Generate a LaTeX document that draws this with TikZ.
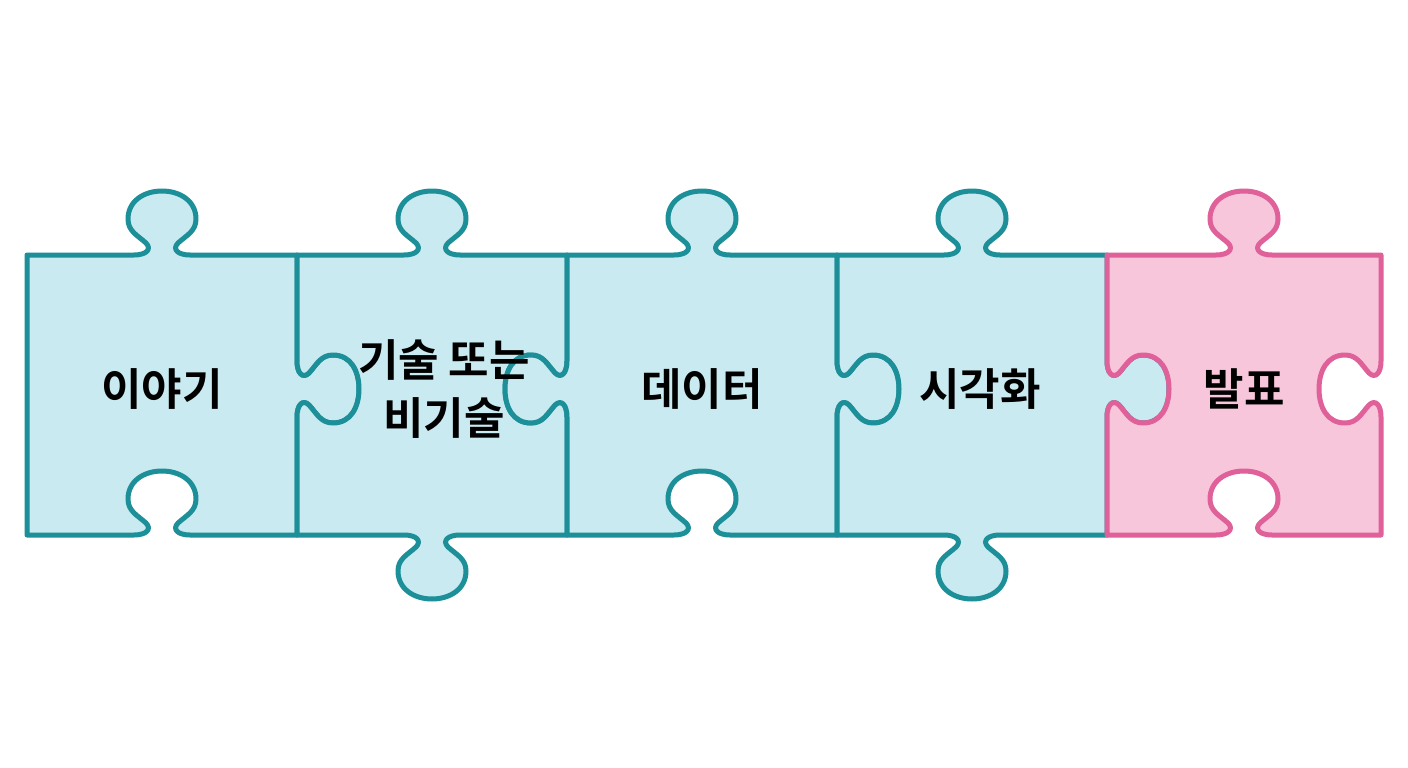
\documentclass[tikz,border=0pt]{standalone}
\usepackage{fontspec}
\newfontfamily\kr{Noto Sans CJK KR}[UprightFont=* Bold]
\definecolor{tealline}{HTML}{1C8F99}
\definecolor{tealfill}{HTML}{C8EAF0}
\definecolor{pinkline}{HTML}{E0609A}
\definecolor{pinkfill}{HTML}{F8C6DA}
% horizontal edge tab: #1=cx #2=cy #3=direction along x #4=outward sign in y
\newcommand\tabH[4]{%
 -- ({#1+#3*(-28)},{#2})
 .. controls ({#1+#3*(-16)},{#2}) and ({#1+#3*(-9.8)},{#2+#4*5.6}) .. ({#1+#3*(-16)},{#2+#4*12})
 .. controls ({#1+#3*(-25)},{#2+#4*20}) and ({#1+#3*(-34)},{#2+#4*24}) .. ({#1+#3*(-34)},{#2+#4*36})
 .. controls ({#1+#3*(-34)},{#2+#4*54}) and ({#1+#3*(-18)},{#2+#4*64}) .. ({#1},{#2+#4*64})
 .. controls ({#1+#3*18},{#2+#4*64}) and ({#1+#3*34},{#2+#4*54}) .. ({#1+#3*34},{#2+#4*36})
 .. controls ({#1+#3*34},{#2+#4*24}) and ({#1+#3*25},{#2+#4*20}) .. ({#1+#3*16},{#2+#4*12})
 .. controls ({#1+#3*9.8},{#2+#4*5.6}) and ({#1+#3*16},{#2}) .. ({#1+#3*28},{#2})}
% vertical edge tab: #1=cx #2=cy #3=direction along y #4=outward sign in x
\newcommand\tabV[4]{%
 -- ({#1},{#2+#3*(-28)})
 .. controls ({#1},{#2+#3*(-16)}) and ({#1+#4*5.6},{#2+#3*(-9.8)}) .. ({#1+#4*12},{#2+#3*(-16)})
 .. controls ({#1+#4*20},{#2+#3*(-25)}) and ({#1+#4*24},{#2+#3*(-34)}) .. ({#1+#4*36},{#2+#3*(-34)})
 .. controls ({#1+#4*54},{#2+#3*(-34)}) and ({#1+#4*62},{#2+#3*(-18)}) .. ({#1+#4*62},{#2})
 .. controls ({#1+#4*62},{#2+#3*18}) and ({#1+#4*54},{#2+#3*34}) .. ({#1+#4*36},{#2+#3*34})
 .. controls ({#1+#4*24},{#2+#3*34}) and ({#1+#4*20},{#2+#3*25}) .. ({#1+#4*12},{#2+#3*16})
 .. controls ({#1+#4*5.6},{#2+#3*9.8}) and ({#1},{#2+#3*16}) .. ({#1},{#2+#3*28})}
\tikzset{
 tealpiece/.style={draw=tealline,fill=tealfill,line width=5pt,line join=round},
 pinkpiece/.style={draw=pinkline,fill=pinkfill,line width=5pt,line join=round},
 lbl/.style={font=\kr\fontsize{44}{58}\selectfont,align=center,text=black,inner sep=0pt}
}
\begin{document}
\begin{tikzpicture}[x=1pt,y=-1pt]
\useasboundingbox (0,0) rectangle (1408,768);
\fill[white] (0,0) rectangle (1408,768);
% piece 1
\path[tealpiece] (27,255) \tabH{162}{255}{1}{-1} -- (297,255) \tabV{297}{389}{1}{1} -- (297,535) \tabH{162}{535}{-1}{-1} -- (27,535) -- cycle;
% piece 2
\path[tealpiece] (297,255) \tabH{432}{255}{1}{-1} -- (567,255) \tabV{567}{389}{1}{-1} -- (567,535) \tabH{432}{535}{-1}{1} -- (297,535) \tabV{297}{389}{-1}{1} -- cycle;
% piece 3
\path[tealpiece] (567,255) \tabH{702}{255}{1}{-1} -- (837,255) \tabV{837}{389}{1}{1} -- (837,535) \tabH{702}{535}{-1}{-1} -- (567,535) \tabV{567}{389}{-1}{-1} -- cycle;
% piece 4
\path[tealpiece] (837,255) \tabH{972}{255}{1}{-1} -- (1107,255) \tabV{1107}{389}{1}{1} -- (1107,535) \tabH{972}{535}{-1}{1} -- (837,535) \tabV{837}{389}{-1}{1} -- cycle;
% piece 5
\path[pinkpiece] (1107,255) \tabH{1244}{255}{1}{-1} -- (1381,255) \tabV{1381}{389}{1}{-1} -- (1381,535) \tabH{1244}{535}{-1}{-1} -- (1107,535) \tabV{1107}{389}{-1}{1} -- cycle;
% labels
\node[lbl] (t1) at (162,389) {이야기};
\node[lbl] (t2) at (444,389) {기술 또는\\비기술};
\node[lbl] (t3) at (702,389) {데이터};
\node[lbl] (t4) at (980,389) {시각화};
\node[lbl] (t5) at (1244,389) {발표};
\end{tikzpicture}
\end{document}
